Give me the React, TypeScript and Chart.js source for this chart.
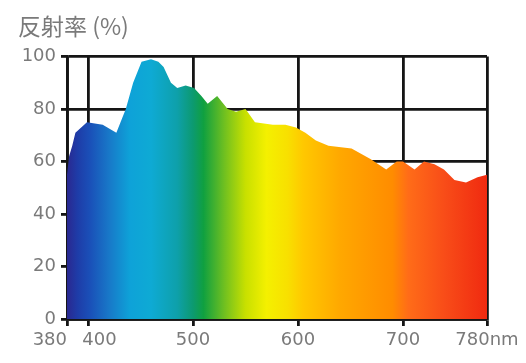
import React, { useEffect, useRef } from "react";
import { Chart, registerables } from "chart.js";

Chart.register(...registerables);

// wavelength (nm)
const wavelengths = [380, 382, 385, 388, 399, 414, 427, 436, 443, 451, 460, 467, 472, 479, 485, 493, 501, 508, 514, 523, 533, 541, 550, 559, 576, 588, 598, 607, 617, 629, 651, 669, 684, 694, 700, 711, 720, 730, 739, 749, 760, 771, 780];
// reflectance (%)
const reflectance = [55, 62, 66, 71, 75, 74, 71, 80, 90, 98, 99, 98, 96, 90, 88, 89, 88, 85, 82, 85, 80, 79, 80, 75, 74, 74, 73, 71, 68, 66, 65, 61, 57, 60, 60, 57, 60, 59, 57, 53, 52, 54, 55];

const xTicks = [380, 400, 500, 600, 700, 780];
const yTicks = [0, 20, 40, 60, 80, 100];
const titleText = "反射率 (%)";

// spectrum gradient stops: [wavelength, color]
const spectrumNm = [380, 390, 402, 420, 440, 460, 485, 500, 510, 530, 550, 570, 590, 605, 640, 690, 705, 740, 780];
const spectrumColors = ["#2a2890", "#1e3ca8", "#1a50b8", "#1878c8", "#0ea2d8", "#0eaad4", "#0ea0aa", "#0c9a70", "#10a040", "#70c020", "#c8e000", "#f4f000", "#f8e000", "#ffc800", "#ffa800", "#ff8c00", "#ff6c18", "#f84c18", "#f02a10"];

export default function App() {
  const ref = useRef<HTMLCanvasElement | null>(null);

  useEffect(() => {
    if (!ref.current) return;
    const gradientFill = (c: any) => {
      const chart = c.chart;
      const area = chart.chartArea;
      const xs = chart.scales.x;
      if (!area || !xs) return "#10a0d0";
      const x0 = xs.getPixelForValue(380);
      const x1 = xs.getPixelForValue(780);
      const g = chart.ctx.createLinearGradient(x0, 0, x1, 0);
      spectrumNm.forEach((nm, i) => {
        g.addColorStop((nm - 380) / 400, spectrumColors[i]);
      });
      return g;
    };

    const tickFont = { family: "'DejaVu Sans', sans-serif", size: 18 };

    const chart = new Chart(ref.current, {
      type: "line",
      data: {
        datasets: [
          {
            data: wavelengths.map((w, i) => ({ x: w, y: reflectance[i] })),
            fill: "origin",
            backgroundColor: gradientFill,
            borderColor: "rgba(0,0,0,0)",
            borderWidth: 0,
            pointRadius: 0,
            tension: 0,
          },
        ],
      },
      options: {
        animation: false,
        responsive: false,
        maintainAspectRatio: false,
        layout: { padding: { left: 18, right: 39, top: 0, bottom: 0 } },
        plugins: {
          legend: { display: false },
          tooltip: { enabled: false },
          title: {
            display: true,
            text: titleText,
            align: "start",
            color: "#7a7a7a",
            font: { family: "'Noto Sans CJK JP', sans-serif", size: 23, weight: "normal" },
            padding: { top: 12, bottom: 17 },
          },
        },
        scales: {
          x: {
            type: "linear",
            min: 380,
            max: 780,
            z: 1,
            afterBuildTicks: (s: any) => {
              s.ticks = xTicks.map((v) => ({ value: v }));
            },
            afterFit: (s: any) => {
              s.height = 44;
            },
            ticks: {
              autoSkip: false,
              maxRotation: 0,
              color: "#7a7a7a",
              padding: 4,
              font: tickFont,
              callback: (v: any) => {
                if (v === 380) return "380      ";
                if (v === 400) return "    400";
                if (v === 780) return "780nm";
                return String(v);
              },
            },
            grid: {
              color: "#151515",
              lineWidth: 2.8,
              tickLength: 7,
              drawOnChartArea: true,
            },
            border: { display: true, color: "#151515", width: 2.8 },
          },
          y: {
            type: "linear",
            min: 0,
            max: 100,
            z: 1,
            afterBuildTicks: (s: any) => {
              s.ticks = yTicks.map((v) => ({ value: v }));
            },
            afterFit: (s: any) => {
              s.width = 49;
            },
            ticks: {
              color: "#7a7a7a",
              padding: 5,
              font: tickFont,
            },
            grid: {
              color: "#151515",
              lineWidth: 2.8,
              tickLength: 6,
            },
            border: { display: true, color: "#151515", width: 2.8 },
          },
        },
      },
    });
    return () => chart.destroy();
  }, []);

  return (
    <div style={{ position: "fixed", left: 0, top: 0, width: 526, height: 363, background: "#fff" }}>
      <canvas ref={ref} width={526} height={363} style={{ width: 526, height: 363, display: "block" }} />
    </div>
  );
}
